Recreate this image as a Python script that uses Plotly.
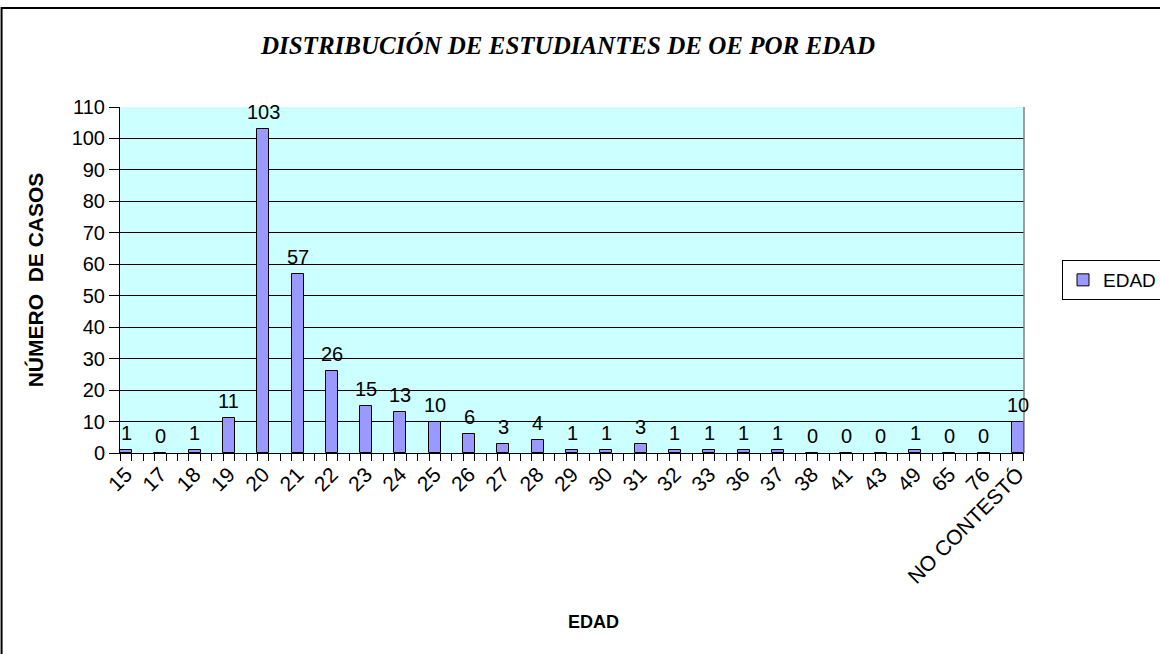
import plotly.graph_objects as go

# categorias de edad y numero de casos
edades = ["15", "17", "18", "19", "20", "21", "22", "23", "24", "25", "26", "27", "28", "29",
          "30", "31", "32", "33", "36", "37", "38", "41", "43", "49", "65", "76", "NO CONTESTÓ"]
casos = [1, 0, 1, 11, 103, 57, 26, 15, 13, 10, 6, 3, 4, 1,
         1, 3, 1, 1, 1, 1, 0, 0, 0, 1, 0, 0, 10]
y_ticks = list(range(0, 111, 10))

pos = list(range(len(edades)))
sans = "Liberation Sans, Arial, sans-serif"

fig = go.Figure()
fig.add_trace(go.Bar(
    x=pos, y=casos, name="EDAD", width=0.35,
    marker=dict(color="#9999FF", line=dict(color="#000000", width=1)),
    cliponaxis=False,
))

# etiquetas de valor sobre cada barra
for xi, yi in zip(pos, casos):
    fig.add_annotation(x=xi, y=yi, text=str(yi), showarrow=False,
                       xanchor="center", yanchor="bottom", yshift=4,
                       font=dict(family=sans, size=20, color="black"))

fig.add_annotation(xref="paper", yref="paper", x=(593 - 120) / 904, y=(453 - 622) / 346,
                   text="<b>EDAD</b>", showarrow=False, xanchor="center", yanchor="middle",
                   font=dict(family=sans, size=18, color="black"))

fig.update_layout(
    width=1160, height=654,
    margin=dict(l=120, r=136, t=107, b=201),
    paper_bgcolor="white", plot_bgcolor="#CCFFFF",
    font=dict(family=sans, size=18, color="black"),
    title=dict(text="<b><i>DISTRIBUCIÓN DE ESTUDIANTES DE OE POR EDAD</i></b>",
               font=dict(family="Liberation Serif, Times New Roman, serif", size=25),
               x=0.4896, xanchor="center", y=1 - 45 / 654, yanchor="middle"),
    showlegend=True,
    legend=dict(xref="container", yref="container",
                x=1062 / 1160, xanchor="left", y=1 - 280 / 654, yanchor="middle",
                bordercolor="black", borderwidth=1, bgcolor="white",
                font=dict(size=19)),
    bargap=0,
)
fig.update_xaxes(
    range=[-0.175, len(edades) - 1 + 0.175],
    tickmode="array", tickvals=pos, ticktext=edades, tickangle=-45,
    ticks="", showgrid=False, zeroline=False,
    showline=True, linecolor="black", linewidth=1,
    minor=dict(ticks="outside", tick0=-1 / 6, dtick=1 / 3, ticklen=7,
               tickcolor="black", showgrid=False),
    tickfont=dict(size=21),
)
fig.update_yaxes(
    range=[0, 110], tickmode="array", tickvals=y_ticks,
    ticks="outside", ticklen=10, tickcolor="black",
    showgrid=True, gridcolor="black", gridwidth=1, zeroline=False,
    showline=True, linecolor="black", linewidth=1,
    tickfont=dict(size=20),
    title=dict(text="<b>NÚMERO  DE CASOS</b>", font=dict(size=21), standoff=22),
)
# borde derecho gris del area de trazado y marco exterior del grafico
fig.add_shape(type="line", xref="paper", yref="paper", x0=1, x1=1, y0=0, y1=1,
              line=dict(color="#808080", width=1.5), layer="above")
fig.add_shape(type="rect", xref="paper", yref="paper",
              x0=-0.131, x1=1.2, y0=-0.62, y1=1.286,
              line=dict(color="black", width=2), layer="above")

fig.write_html("out.html", config={"displayModeBar": False},
               post_script="document.body.style.margin='0';")
